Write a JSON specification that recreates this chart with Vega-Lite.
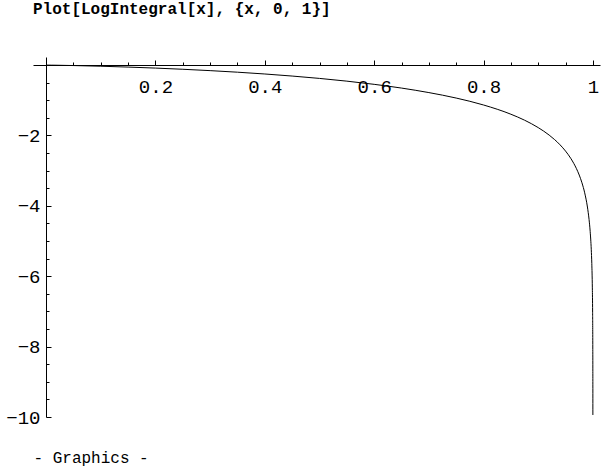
{
  "$schema": "https://vega.github.io/schema/vega-lite/v6.json",
  "width": 567,
  "height": 360,
  "autosize": "none",
  "padding": {"left": 33, "top": 57, "right": 3, "bottom": 55},
  "background": "white",
  "title": {
    "text": "Plot[LogIntegral[x], {x, 0, 1}]",
    "anchor": "start",
    "frame": "group",
    "font": "Liberation Mono",
    "fontWeight": "bold",
    "fontSize": 16,
    "color": "black",
    "baseline": "middle",
    "offset": 32
  },
  "config": {"view": {"stroke": null}},
  "data": {
    "values": [
      {"x": 0, "y": 0},
      {"x": 0.01, "y": -0.0018},
      {"x": 0.02, "y": -0.0042},
      {"x": 0.05, "y": -0.0131},
      {"x": 0.1, "y": -0.0323},
      {"x": 0.15, "y": -0.0565},
      {"x": 0.2, "y": -0.0851},
      {"x": 0.25, "y": -0.1187},
      {"x": 0.3, "y": -0.1574},
      {"x": 0.35, "y": -0.2019},
      {"x": 0.4, "y": -0.2529},
      {"x": 0.45, "y": -0.3114},
      {"x": 0.5, "y": -0.3787},
      {"x": 0.55, "y": -0.4564},
      {"x": 0.6, "y": -0.5469},
      {"x": 0.65, "y": -0.6531},
      {"x": 0.7, "y": -0.7812},
      {"x": 0.75, "y": -0.9368},
      {"x": 0.8, "y": -1.1336},
      {"x": 0.85, "y": -1.396},
      {"x": 0.875, "y": -1.5654},
      {"x": 0.9, "y": -1.7762},
      {"x": 0.91, "y": -1.8762},
      {"x": 0.92, "y": -1.9888},
      {"x": 0.93, "y": -2.1173},
      {"x": 0.94, "y": -2.2664},
      {"x": 0.95, "y": -2.4436},
      {"x": 0.96, "y": -2.6617},
      {"x": 0.97, "y": -2.9443},
      {"x": 0.975, "y": -3.1242},
      {"x": 0.98, "y": -3.3448},
      {"x": 0.985, "y": -3.6299},
      {"x": 0.99, "y": -4.033},
      {"x": 0.993, "y": -4.3881},
      {"x": 0.995, "y": -4.7236},
      {"x": 0.997, "y": -5.2334},
      {"x": 0.998, "y": -5.6384},
      {"x": 0.999, "y": -6.3311},
      {"x": 0.9995, "y": -7.0239},
      {"x": 0.9998, "y": -7.9401},
      {"x": 0.9999, "y": -8.6332},
      {"x": 0.99995, "y": -9.3263},
      {"x": 0.999973, "y": -9.9425}
    ]
  },
  "resolve": {"axis": {"x": "independent", "y": "independent"}},
  "layer": [
    {
      "mark": {"type": "line", "color": "black", "strokeWidth": 1, "interpolate": "monotone"},
      "encoding": {
        "x": {
          "field": "x", "type": "quantitative",
          "scale": {"domain": [-0.024, 1.013], "nice": false, "zero": false},
          "axis": {
            "orient": "top", "offset": -8, "grid": false,
            "values": [0.2, 0.4, 0.6, 0.8, 1], "format": ".1~f",
            "domainColor": "black", "domainWidth": 1,
            "tickColor": "black", "tickSize": 5, "tickWidth": 1,
            "labelFont": "Liberation Mono", "labelFontSize": 19, "labelColor": "black",
            "labelBaseline": "middle", "labelPadding": -26, "labelFlush": false,
            "labelOverlap": false, "title": null
          }
        },
        "y": {
          "field": "y", "type": "quantitative",
          "scale": {"domain": [-10, 0.23], "nice": false, "zero": false},
          "axis": {
            "orient": "right", "offset": -554, "grid": false,
            "values": [-10, -8, -6, -4, -2], "format": "d",
            "domainColor": "black", "domainWidth": 1,
            "tickColor": "black", "tickSize": 5, "tickWidth": 1,
            "labelFont": "Liberation Mono", "labelFontSize": 19, "labelColor": "black",
            "labelAlign": "right", "labelBaseline": "middle", "labelPadding": -11,
            "labelFlush": false, "labelOverlap": false, "title": null
          }
        }
      }
    },
    {
      "mark": {"type": "line", "opacity": 0},
      "encoding": {
        "x": {
          "field": "x", "type": "quantitative",
          "axis": {
            "orient": "top", "offset": -8, "grid": false, "domain": false, "labels": false,
            "values": [0.05, 0.1, 0.15, 0.25, 0.3, 0.35, 0.45, 0.5, 0.55, 0.65, 0.7, 0.75, 0.85, 0.9, 0.95],
            "tickColor": "black", "tickSize": 3, "tickWidth": 1, "title": null
          }
        },
        "y": {
          "field": "y", "type": "quantitative",
          "axis": {
            "orient": "right", "offset": -554, "grid": false, "domain": false, "labels": false,
            "values": [-9.5, -9, -8.5, -7.5, -7, -6.5, -5.5, -5, -4.5, -3.5, -3, -2.5, -1.5, -1, -0.5],
            "tickColor": "black", "tickSize": 3, "tickWidth": 1, "title": null
          }
        }
      }
    },
    {
      "mark": {"type": "line", "opacity": 0},
      "encoding": {
        "x": {
          "field": "x", "type": "quantitative",
          "axis": {
            "orient": "bottom", "grid": false, "domain": false, "labels": false, "ticks": false,
            "title": "- Graphics -", "titleAnchor": "start", "titleAlign": "left",
            "titleFont": "Liberation Mono", "titleFontSize": 16, "titleFontWeight": "normal",
            "titleColor": "black", "titleBaseline": "middle", "titlePadding": 40
          }
        },
        "y": {"field": "y", "type": "quantitative", "axis": null}
      }
    }
  ]
}
